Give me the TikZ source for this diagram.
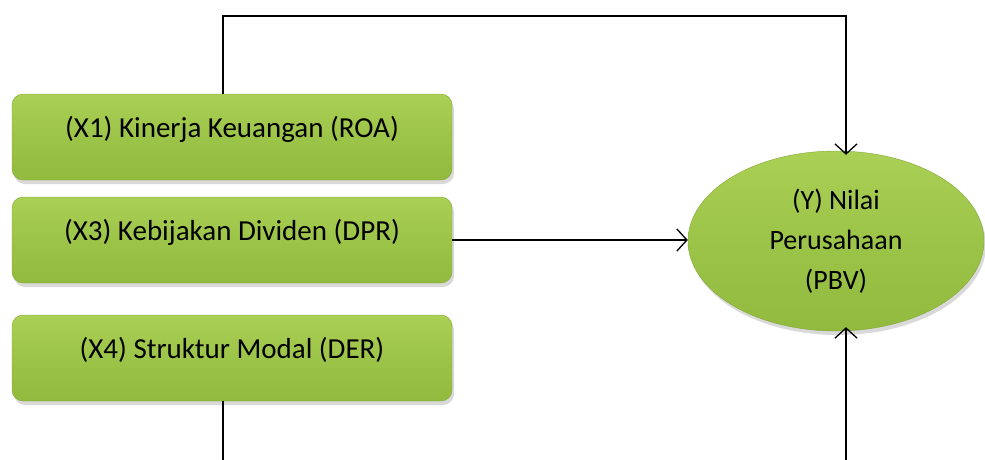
\documentclass[tikz,border=0pt]{standalone}
\usepackage{fontspec}
\setmainfont{Carlito}
\usetikzlibrary{shapes.geometric}
\usetikzlibrary{shadows}
\usetikzlibrary{arrows.meta}
\definecolor{greentop}{RGB}{170,208,86}
\definecolor{greenmid}{RGB}{156,196,72}
\definecolor{greenbot}{RGB}{146,186,62}
\tikzset{
  varbox/.style={draw = greenbot!90!black, line width = 0.4pt, rounded corners = 11pt,
    top color = greentop, bottom color = greenbot, middle color = greenmid,
    minimum width = 440pt, minimum height = 86pt,
    text height = 20pt, text depth = 20pt,
    font = \fontsize{29}{34}\selectfont,
    drop shadow = {shadow xshift = 2pt, shadow yshift = -4pt, opacity = 0.3}},
  varoval/.style={ellipse, draw = greenbot!90!black, line width = 0.4pt,
    top color = greentop, bottom color = greenbot, middle color = greenmid,
    minimum width = 296pt, minimum height = 180pt, align = center,
    font = \fontsize{28}{40}\selectfont,
    drop shadow = {shadow xshift = 2pt, shadow yshift = -4pt, opacity = 0.3}},
  link/.style={line width = 1.3pt, -{Straight Barb[length = 10pt, width = 22pt, line width = 1.3pt]}}
}
\begin{document}
\begin{tikzpicture}[x = 1pt, y = -1pt]
		\useasboundingbox (0,0) rectangle (985,459);
		\clip (0,0) rectangle (985,459);
		% Independent variables
		\node [varbox] (roa) at (232,137) {(X1) Kinerja Keuangan (ROA)};
		\node [varbox] (dpr) at (232,240) {(X3) Kebijakan Dividen (DPR)};
		\node [varbox] (der) at (232,358) {(X4) Struktur Modal (DER)};
		% Dependent variable
		\node [varoval] (pbv) at (836,241) {(Y) Nilai\\ Perusahaan\\ (PBV)};
		% Upper route
		\coordinate (upL) at (223,16);
		\coordinate (upR) at (846,16);
		\draw [link] (roa.north -| upL) -- (upL) -- (upR) -- ([yshift = -4pt]upR |- pbv.north);
		% Middle arrow
		\draw [link] (dpr.east) -- (dpr.east -| pbv.west);
		% Lower route
		\coordinate (loL) at (223,475);
		\coordinate (loR) at (846,475);
		\draw [link] (der.south -| loL) -- (loL) -- (loR) -- ([yshift = 4pt]loR |- pbv.south);
\end{tikzpicture}
\end{document}
